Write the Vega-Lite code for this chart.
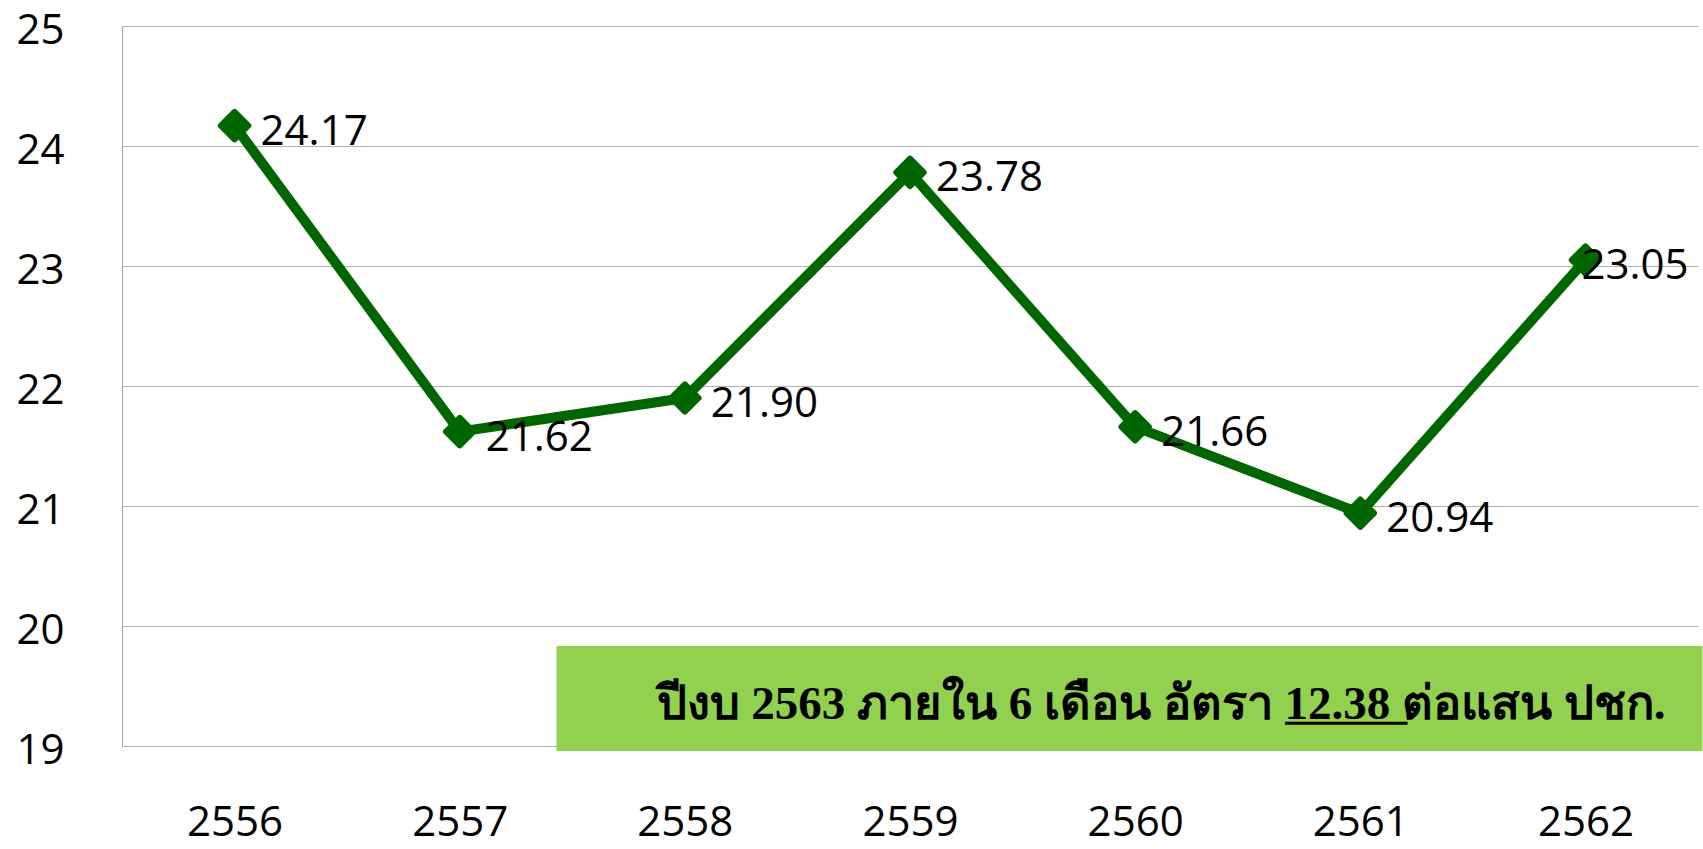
{
  "$schema": "https://vega.github.io/schema/vega-lite/v6.json",
  "autosize": "none",
  "width": 1576,
  "height": 720,
  "padding": {"left": 122, "top": 26, "right": 5, "bottom": 103},
  "background": "white",
  "config": {"view": {"stroke": null}},
  "datasets": {
    "series": [
      {"year": 2556, "rate": 24.17},
      {"year": 2557, "rate": 21.62},
      {"year": 2558, "rate": 21.90},
      {"year": 2559, "rate": 23.78},
      {"year": 2560, "rate": 21.66},
      {"year": 2561, "rate": 20.94},
      {"year": 2562, "rate": 23.05}
    ],
    "note": [
      {"x1": 2557.43, "x2": 2562.52, "y1": 19.833, "y2": 18.958, "tx": 2560.115, "ty": 19.225, "label": "ปีงบ 2563 ภายใน 6 เดือน อัตรา 12.38 ต่อแสน ปชก.", "u1": 2560.666, "u2": 2561.21, "uy": 19.19}
    ]
  },
  "layer": [
    {
      "data": {"name": "note"},
      "mark": {"type": "rect", "color": "#92D050"},
      "encoding": {
        "x": {"field": "x1", "type": "quantitative", "scale": {"domain": [2555.5, 2562.5], "nice": false, "zero": false},
          "axis": {"values": [2556, 2557, 2558, 2559, 2560, 2561, 2562], "format": "d", "title": null, "ticks": false, "domain": false, "grid": false, "labelFont": "Open Sans", "labelFontSize": 42, "labelColor": "black", "labelPadding": 56, "labelFlush": false}},
        "x2": {"field": "x2"},
        "y": {"field": "y1", "type": "quantitative", "scale": {"domain": [19, 25], "nice": false, "zero": false},
          "axis": {"values": [19, 20, 21, 22, 23, 24, 25], "format": "d", "title": null, "ticks": false, "domain": true, "domainColor": "#a6a6a6", "domainWidth": 1, "grid": true, "gridColor": "#b3b3b3", "gridWidth": 1, "labelFont": "Open Sans", "labelFontSize": 42, "labelColor": "black", "labelPadding": 58, "labelOffset": 4, "labelFlush": false}},
        "y2": {"field": "y2"}
      }
    },
    {
      "data": {"name": "note"},
      "mark": {"type": "text", "font": "Liberation Serif", "fontWeight": "bold", "fontSize": 47, "align": "center", "baseline": "alphabetic", "color": "black"},
      "encoding": {
        "x": {"field": "tx", "type": "quantitative"},
        "y": {"field": "ty", "type": "quantitative"},
        "text": {"field": "label"}
      }
    },
    {
      "data": {"name": "note"},
      "mark": {"type": "rule", "color": "black", "strokeWidth": 3},
      "encoding": {
        "x": {"field": "u1", "type": "quantitative"},
        "x2": {"field": "u2"},
        "y": {"field": "uy", "type": "quantitative"}
      }
    },
    {
      "data": {"name": "series"},
      "mark": {"type": "line", "color": "#006600", "strokeWidth": 10},
      "encoding": {
        "x": {"field": "year", "type": "quantitative"},
        "y": {"field": "rate", "type": "quantitative"}
      }
    },
    {
      "data": {"name": "series"},
      "mark": {"type": "point", "shape": "diamond", "filled": true, "color": "#006600", "stroke": "#006600", "strokeWidth": 6, "strokeJoin": "round", "size": 750, "opacity": 1},
      "encoding": {
        "x": {"field": "year", "type": "quantitative"},
        "y": {"field": "rate", "type": "quantitative"}
      }
    },
    {
      "data": {"name": "series"},
      "transform": [{"filter": "datum.year != 2562"}],
      "mark": {"type": "text", "font": "Open Sans", "fontSize": 42, "align": "left", "baseline": "middle", "dx": 26, "dy": 6, "color": "black"},
      "encoding": {
        "x": {"field": "year", "type": "quantitative"},
        "y": {"field": "rate", "type": "quantitative"},
        "text": {"field": "rate", "type": "quantitative", "format": ".2f"}
      }
    },
    {
      "data": {"name": "series"},
      "transform": [{"filter": "datum.year == 2562"}],
      "mark": {"type": "text", "font": "Open Sans", "fontSize": 42, "align": "left", "baseline": "middle", "dx": -4, "dy": 6, "color": "black"},
      "encoding": {
        "x": {"field": "year", "type": "quantitative"},
        "y": {"field": "rate", "type": "quantitative"},
        "text": {"field": "rate", "type": "quantitative", "format": ".2f"}
      }
    }
  ]
}
